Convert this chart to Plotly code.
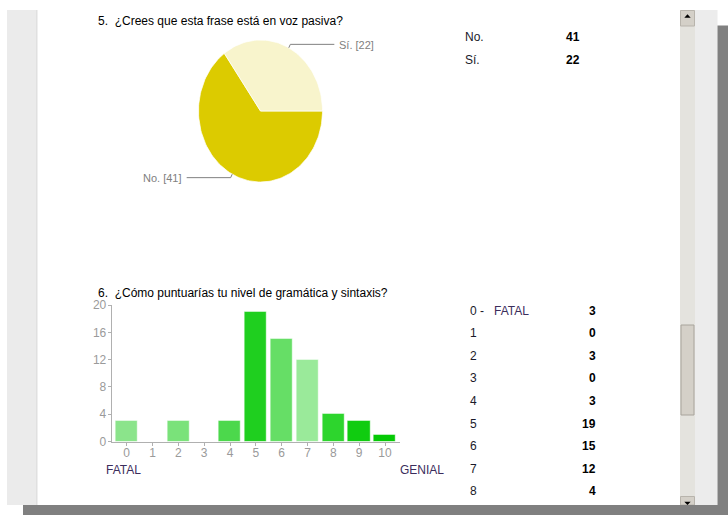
import math
import plotly.graph_objects as go

# ---------------- data ----------------
q5_title = "5.  ¿Crees que esta frase está en voz pasiva?"
q5_answers = ["No.", "Sí."]
q5_counts = [41, 22]

q6_title = "6.  ¿Cómo puntuarías tu nivel de gramática y sintaxis?"
q6_scores = [0, 1, 2, 3, 4, 5, 6, 7, 8, 9, 10]
q6_counts = [3, 0, 3, 0, 3, 19, 15, 12, 4, 3, 1]
q6_low_label = "FATAL"
q6_high_label = "GENIAL"
q6_yticks = [0, 4, 8, 12, 16, 20]
q6_rows_visible = 9  # rows of the summary table visible in the screenshot

# ---------------- styles ----------------
W, H = 728, 515
FONT = "Liberation Sans, Arial, sans-serif"
pie_colors = ["#dccb00", "#f8f4cc"]
bar_colors = ["#8be48b", "#80e080", "#7ae27a", "#70de70", "#4cd84c", "#1fcf1f",
              "#66de66", "#9aea9a", "#2dd52d", "#10cc10", "#05c905"]
label_purple = "#3b2d5c"


def X(px):
    return px / W


def Y(py):
    return 1 - py / H


fig = go.Figure()

# ---------- pie (question 5): slices drawn in their own (stretched) axes ----------
pc_x, pc_y, rx, ry = 260.5, 111.0, 62.0, 71.0
total = sum(q5_counts)
cum = 0
for lab, v, col in zip(q5_answers, q5_counts, pie_colors):
    a0 = -2 * math.pi * cum / total          # clockwise from 3 o'clock
    a1 = -2 * math.pi * (cum + v) / total
    n = max(8, int(180 * v / total))
    xs = [0.0] + [math.cos(a0 + (a1 - a0) * k / n) for k in range(n + 1)] + [0.0]
    ys = [0.0] + [math.sin(a0 + (a1 - a0) * k / n) for k in range(n + 1)] + [0.0]
    fig.add_trace(go.Scatter(
        x=xs, y=ys, xaxis="x2", yaxis="y2", mode="lines", fill="toself",
        fillcolor=col, line=dict(color="white", width=0.7), name=lab,
        showlegend=False, hoverinfo="skip",
    ))
    cum += v

# ---------- bars (question 6) ----------
fig.add_trace(go.Bar(
    x=q6_scores, y=q6_counts, width=0.86, showlegend=False,
    marker=dict(color=bar_colors, line=dict(color="rgba(255,255,255,0.45)", width=1)),
))

axis_common = dict(showline=True, linecolor="#b0b0b0", linewidth=1, ticks="outside",
                   ticklen=3, tickcolor="#b0b0b0", showgrid=False, zeroline=False,
                   automargin=False,
                   tickfont=dict(family=FONT, size=12, color="#9a9a9a"), fixedrange=True)
fig.update_layout(
    xaxis=dict(domain=[X(111.7), X(400)], range=[-0.58, 10.58], tickmode="array",
               tickvals=q6_scores, ticktext=[str(s) for s in q6_scores],
               ticklabelstandoff=-3, **axis_common),
    yaxis=dict(domain=[Y(441.5), Y(305)], range=[0, 20], tickmode="array",
               tickvals=q6_yticks, ticktext=[str(t) for t in q6_yticks],
               ticklabelstandoff=-1, **axis_common),
    xaxis2=dict(domain=[X(pc_x - rx), X(pc_x + rx)], range=[-1, 1], visible=False,
                fixedrange=True, anchor="y2"),
    yaxis2=dict(domain=[Y(pc_y + ry), Y(pc_y - ry)], range=[-1, 1], visible=False,
                fixedrange=True, anchor="x2"),
)

shapes = []
ann = []

# ---------- page chrome ----------
def rect(x0, y0, x1, y1, fill, line=None):
    shapes.append(dict(type="rect", xref="paper", yref="paper", layer="below",
                       x0=X(x0), x1=X(x1), y0=Y(y1), y1=Y(y0), fillcolor=fill,
                       line=dict(width=1 if line else 0, color=line or fill)))

rect(7, 10, 36, 505, "#ebebeb")
rect(36, 10, 37.5, 505, "#e0e0e0")
rect(695, 10, 717.5, 505, "#ececec")
rect(680, 10, 695, 505, "#e4e3de")
rect(680.5, 10.5, 694.5, 26, "#d4d0c8", "#b8b4ac")
rect(680.5, 496.5, 694.5, 505, "#d4d0c8", "#b8b4ac")
rect(681, 325, 694, 415, "#d4d0c8", "#a8a49c")
rect(717.5, 25.5, 728, 515, "#808080")
rect(23, 505, 728, 515, "#808080")

def tri(pts, fill="#000000"):
    path = "M " + " L ".join(f"{X(a):.5f},{Y(b):.5f}" for a, b in pts) + " Z"
    shapes.append(dict(type="path", xref="paper", yref="paper", path=path,
                       fillcolor=fill, line=dict(width=0)))

tri([(684.3, 17.8), (690.7, 17.8), (687.5, 14.2)])
tri([(684.3, 501.8), (690.7, 501.8), (687.5, 505)])

# ---------- text helper ----------
def text(x, y, s, size=12, color="#000", anchor="left", bold=False):
    ann.append(dict(xref="paper", yref="paper", x=X(x), y=Y(y), text=(f"<b>{s}</b>" if bold else s),
                    showarrow=False, xanchor=anchor, yanchor="middle",
                    font=dict(family=FONT, size=size, color=color)))

text(95.5, 21, q5_title, size=12, color="#000")
text(95.5, 293, q6_title, size=12, color="#000")

# ---------- q5 table ----------
for i, (a, c) in enumerate(zip(q5_answers, q5_counts)):
    yy = 37 + i * 23
    text(463, yy, a, color="#1a1a2a")
    text(582, yy, str(c), anchor="right", bold=True)

# ---------- q6 table ----------
for i in range(q6_rows_visible):
    yy = 310.5 + i * 22.6
    s = str(q6_scores[i])
    if i == 0:
        s = f"{s} -  <span style='color:{label_purple}'>&nbsp;{q6_low_label}</span>"
    text(468, yy, s, color="#1a1a2a")
    text(598, yy, str(q6_counts[i]), anchor="right", bold=True)

# ---------- scale labels ----------
text(104.5, 470, q6_low_label, color=label_purple)
text(445.5, 470, q6_high_label, color=label_purple, anchor="right")

# ---------- pie leader lines + labels ----------
cum = 0
for lab, v in zip(q5_answers, q5_counts):
    mid = 2 * math.pi * (cum + v / 2) / total  # clockwise from 3 o'clock (screen coords)
    cum += v
    dx, dy = math.cos(mid), math.sin(mid)
    p0 = (pc_x + rx * dx, pc_y + ry * dy)
    p1 = (pc_x + 1.055 * rx * dx, pc_y + 1.055 * ry * dy)
    sgn = 1 if dx > 0 else -1
    p2 = (p1[0] + sgn * 44, p1[1])
    path = f"M {X(p0[0]):.5f},{Y(p0[1]):.5f} L {X(p1[0]):.5f},{Y(p1[1]):.5f} L {X(p2[0]):.5f},{Y(p2[1]):.5f}"
    shapes.append(dict(type="path", xref="paper", yref="paper", path=path,
                       line=dict(color="#808080", width=1)))
    text(p2[0] + sgn * 2.5, p2[1] + 0.5, f"{lab} [{v}]", size=11, color="#808080",
         anchor="left" if sgn > 0 else "right")

fig.update_layout(
    width=W, height=H, margin=dict(l=0, r=0, t=0, b=0, pad=0, autoexpand=False),
    paper_bgcolor="white", plot_bgcolor="rgba(0,0,0,0)",
    shapes=shapes, annotations=ann, bargap=0,
)

fig.write_html(
    "out.html",
    config={"displayModeBar": False},
    post_script="document.body.style.margin='0';document.body.style.overflow='hidden';",
)
